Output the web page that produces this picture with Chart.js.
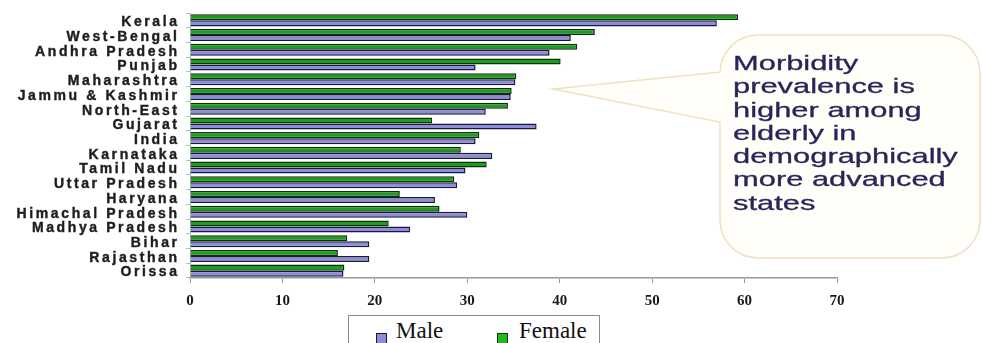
<!DOCTYPE html>
<html>
<head>
<meta charset="utf-8">
<script src="https://cdn.jsdelivr.net/npm/chart.js@4.4.1/dist/chart.umd.min.js"></script>
<style>
  html, body { margin: 0; padding: 0; background: #ffffff; }
  #wrap { position: relative; width: 982px; height: 343px; overflow: hidden; }
  #chart { position: absolute; left: 0; top: 0; }
  #callout-text {
    position: absolute; left: 733px; top: 51px;
    font-family: "Liberation Sans", Arial, sans-serif; font-size: 21px; line-height: 23.3px;
    color: #27265a; white-space: pre; transform: scaleX(1.47); transform-origin: left top;
    -webkit-text-stroke: 0.3px #27265a;
  }
  #legend {
    position: absolute; left: 348px; top: 315px; width: 250px; height: 40px;
    border: 1px solid #8a8a8a; background: #ffffff;
    font-family: "Liberation Serif", "Times New Roman", serif; font-size: 23px; color: #111;
  }
  #legend span { position: absolute; top: 2px; }
  #legend i { position: absolute; top: 17px; width: 9px; height: 9px; border: 1.5px solid #1a1a40; }
</style>
</head>
<body>
<div id="wrap">
  <canvas id="chart" width="982" height="343"></canvas>
  <div id="callout-text">Morbidity
prevalence is
higher among
elderly in
demographically
more advanced
states</div>
  <div id="legend">
    <i style="left:27px; background:#8c8cd8;"></i><span style="left:47px;">Male</span>
    <i style="left:148px; background:#22b822; border-color:#0b3d0b;"></i><span style="left:170px;">Female</span>
  </div>
</div>
<script>
// data
const states = ["Kerala", "West-Bengal", "Andhra Pradesh", "Punjab", "Maharashtra",
  "Jammu & Kashmir", "North-East", "Gujarat", "India", "Karnataka", "Tamil Nadu",
  "Uttar Pradesh", "Haryana", "Himachal Pradesh", "Madhya Pradesh", "Bihar",
  "Rajasthan", "Orissa"];
const male = [57.0, 41.2, 38.9, 30.9, 35.2, 34.7, 32.0, 37.5, 30.9, 32.7, 29.8,
  28.9, 26.5, 30.0, 23.8, 19.4, 19.4, 16.6];
const female = [59.3, 43.8, 41.9, 40.1, 35.3, 34.8, 34.4, 26.2, 31.3, 29.3, 32.1,
  28.6, 22.7, 27.0, 21.5, 17.0, 16.0, 16.7];
const xTicks = [0, 10, 20, 30, 40, 50, 60, 70];

// state names, drawn spaced out like the original slide
const stateLabels = {
  id: "stateLabels",
  afterDraw(chart) {
    const ctx = chart.ctx;
    const yScale = chart.scales.y;
    const spacing = 2.6;
    ctx.save();
    ctx.font = "bold 14px 'Liberation Sans', Arial, sans-serif";
    ctx.fillStyle = "#1e1e1e";
    ctx.strokeStyle = "#1e1e1e";
    ctx.lineWidth = 0.4;
    ctx.textAlign = "right";
    ctx.textBaseline = "middle";
    const hasSpacing = "letterSpacing" in ctx;
    if (hasSpacing) ctx.letterSpacing = spacing + "px";
    states.forEach((name, i) => {
      const y = yScale.getPixelForTick(i) + 2;
      const x = 177 + (hasSpacing ? spacing : 0);
      ctx.fillText(name, x, y);
      ctx.strokeText(name, x, y);
    });
    ctx.restore();
  },
};

// speech bubble behind the note
const callout = {
  id: "callout",
  afterDraw(chart) {
    const ctx = chart.ctx;
    const l = 720, t = 35, r = 980, b = 258, rad = 38;
    ctx.save();
    ctx.beginPath();
    ctx.moveTo(l + rad, t);
    ctx.lineTo(r - rad, t);
    ctx.arcTo(r, t, r, t + rad, rad);
    ctx.lineTo(r, b - rad);
    ctx.arcTo(r, b, r - rad, b, rad);
    ctx.lineTo(l + rad, b);
    ctx.arcTo(l, b, l, b - rad, rad);
    ctx.lineTo(l, 122);
    ctx.lineTo(553, 89);
    ctx.lineTo(l, 72);
    ctx.lineTo(l, t + rad);
    ctx.arcTo(l, t, l + rad, t, rad);
    ctx.closePath();
    ctx.fillStyle = "#fffef8";
    ctx.fill();
    ctx.strokeStyle = "#efe0c4";
    ctx.lineWidth = 1.5;
    ctx.stroke();
    ctx.restore();
  },
};

const ctx = document.getElementById("chart").getContext("2d");
new Chart(ctx, {
  type: "bar",
  data: {
    labels: states,
    datasets: [
      {
        label: "Female",
        data: female,
        backgroundColor: "#1f9c1f",
        borderColor: "#0a330a",
        borderWidth: 1.5,
      },
      {
        label: "Male",
        data: male,
        backgroundColor: "#8c8cd8",
        borderColor: "#181838",
        borderWidth: 1.5,
      },
    ],
  },
  options: {
    indexAxis: "y",
    responsive: false,
    animation: false,
    devicePixelRatio: 1,
    layout: { padding: { left: 186, right: 145, top: 13, bottom: 24 } },
    datasets: { bar: { categoryPercentage: 0.82, barPercentage: 1.0 } },
    plugins: {
      legend: { display: false },
      tooltip: { enabled: false },
    },
    scales: {
      x: {
        min: 0,
        max: 70,
        afterBuildTicks(scale) {
          scale.ticks = xTicks.map((v) => ({ value: v }));
        },
        grid: { drawOnChartArea: false, tickLength: 5, color: "#999999" },
        border: { color: "#999999", width: 1.5 },
        ticks: {
          padding: 9,
          color: "#1a1a1a",
          font: { family: "'Liberation Serif', 'Times New Roman', serif", size: 15, weight: "bold" },
        },
      },
      y: {
        grid: { drawOnChartArea: false, tickLength: 4, color: "#bbbbbb", offset: true },
        border: { color: "#bbbbbb", width: 1 },
        ticks: { display: false },
      },
    },
  },
  plugins: [callout, stateLabels],
});
</script>
</body>
</html>
